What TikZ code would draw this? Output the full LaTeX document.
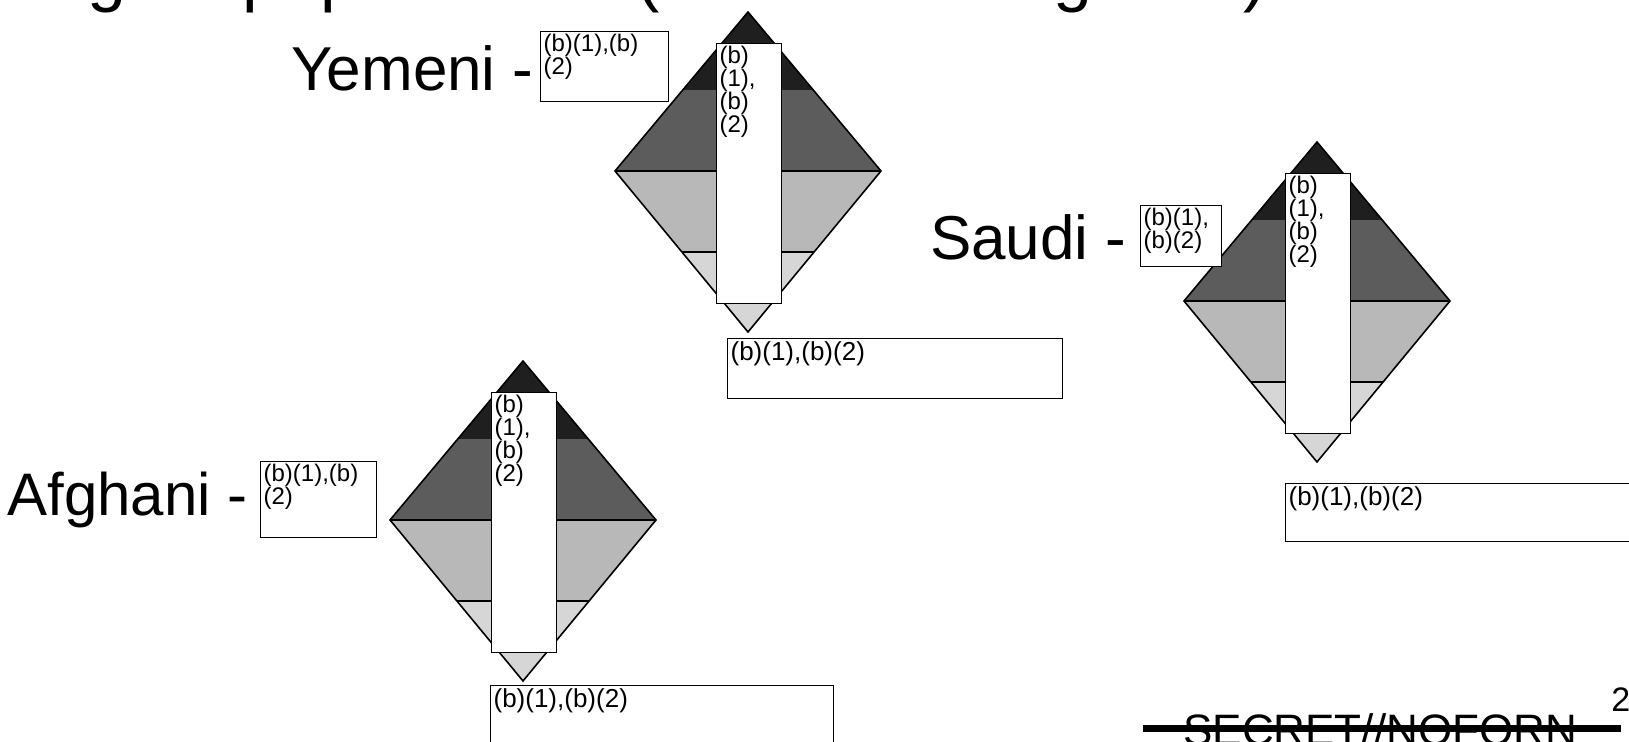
\documentclass[tikz,border=0pt]{standalone}
\usepackage{fontspec}
\setmainfont{Liberation Sans}

\begin{document}
\begin{tikzpicture}[x=0.5pt,y=-0.5pt,
	big/.style={font=\fontsize{31}{36}\selectfont, inner sep=0pt},
	ttl/.style={font=\fontsize{35}{40}\selectfont, inner sep=0pt, anchor=base west},
	box/.style={draw, line width=0.6pt, fill=white, anchor=north west, inner sep=1.5pt,
		font=\fontsize{12}{11.5}\selectfont},
	colbox/.style={box, font=\fontsize{12}{11.5}\selectfont},
	notebox/.style={box, font=\fontsize{13}{13}\selectfont},
	]
		\clip (0,0) rectangle (1629,742);
		% title, cut off by the page top
		\node[ttl] (ttl1) at (87,-1) {g};
		\node[ttl] (ttl2) at (242,-1) {p};
		\node[ttl] (ttl3) at (320,-1) {p};
		\node[ttl] (ttl4) at (636,-1) {(};
		\node[ttl] (ttl5) at (1053,-1) {g};
		\node[ttl] (ttl6) at (1243,-1) {)};
		% the three diamonds
		\foreach \ax/\ay/\nm in {748/12/yem, 1317/142/sau, 523/361/afg} {
			\begin{scope}
				\clip (\ax,\ay) -- (\ax+133,\ay+159) -- (\ax,\ay+320) -- (\ax-133,\ay+159) -- cycle;
				\fill[black!16] (\ax-140,\ay) rectangle (\ax+140,\ay+320);
				\fill[black!28] (\ax-140,\ay+159) rectangle (\ax+140,\ay+240);
				\fill[black!64] (\ax-140,\ay+78) rectangle (\ax+140,\ay+159);
				\fill[black!88] (\ax-140,\ay) rectangle (\ax+140,\ay+78);
			\end{scope}
			\draw[line width=0.8pt] (\ax,\ay) -- (\ax+133,\ay+159) -- (\ax,\ay+320) -- (\ax-133,\ay+159) -- cycle;
			\draw[line width=0.9pt] (\ax-133,\ay+159) -- (\ax+133,\ay+159);
			\draw[line width=0.6pt] (\ax-66,\ay+240) -- (\ax+66,\ay+240);
			\node[colbox] (\nm rect) at (\ax-32,\ay+31) {\parbox[t][127pt][t]{29.5pt}{(b)\\(1),\\(b)\\(2)}};
		}
		% labels
		\node[big, anchor=base east] (yemlbl) at (534,91) {Yemeni -};
		\node[box] (yembox) at (540,31) {\parbox[t][32pt][t]{61pt}{(b)(1),(b)\\(2)}};
		\node[big, anchor=base east] (saulbl) at (1127,260) {Saudi -};
		\node[box] (saubox) at (1140,205) {\parbox[t][27.5pt][t]{37.5pt}{(b)(1),\\(b)(2)}};
		\node[big, font=\fontsize{30}{36}\selectfont, anchor=base east] (afglbl) at (248,516) {Afghani -};
		\node[box] (afgbox) at (260,461) {\parbox[t][35pt][t]{55pt}{(b)(1),(b)\\(2)}};
		% boxes under the diamonds
		\node[notebox] (yemnote) at (727,338) {\parbox[t][27pt][t]{164.5pt}{(b)(1),(b)(2)}};
		\node[notebox] (saunote) at (1285,483) {\parbox[t][26pt][t]{172pt}{(b)(1),(b)(2)}};
		\node[notebox] (afgnote) at (490,685) {\parbox[t][27pt][t]{168.5pt}{(b)(1),(b)(2)}};
		% marking at the foot
		\node[font=\fontsize{22}{26}\selectfont, inner sep=0pt, anchor=base west] (mark) at (1183,746) {SECRET//NOFORN};
		\draw[line width=3.5pt] (1143,729) -- (1621,729);
		\node[font=\fontsize{17}{20}\selectfont, inner sep=0pt, anchor=base west] (pgno) at (1611,712) {2};
\end{tikzpicture}
\end{document}
